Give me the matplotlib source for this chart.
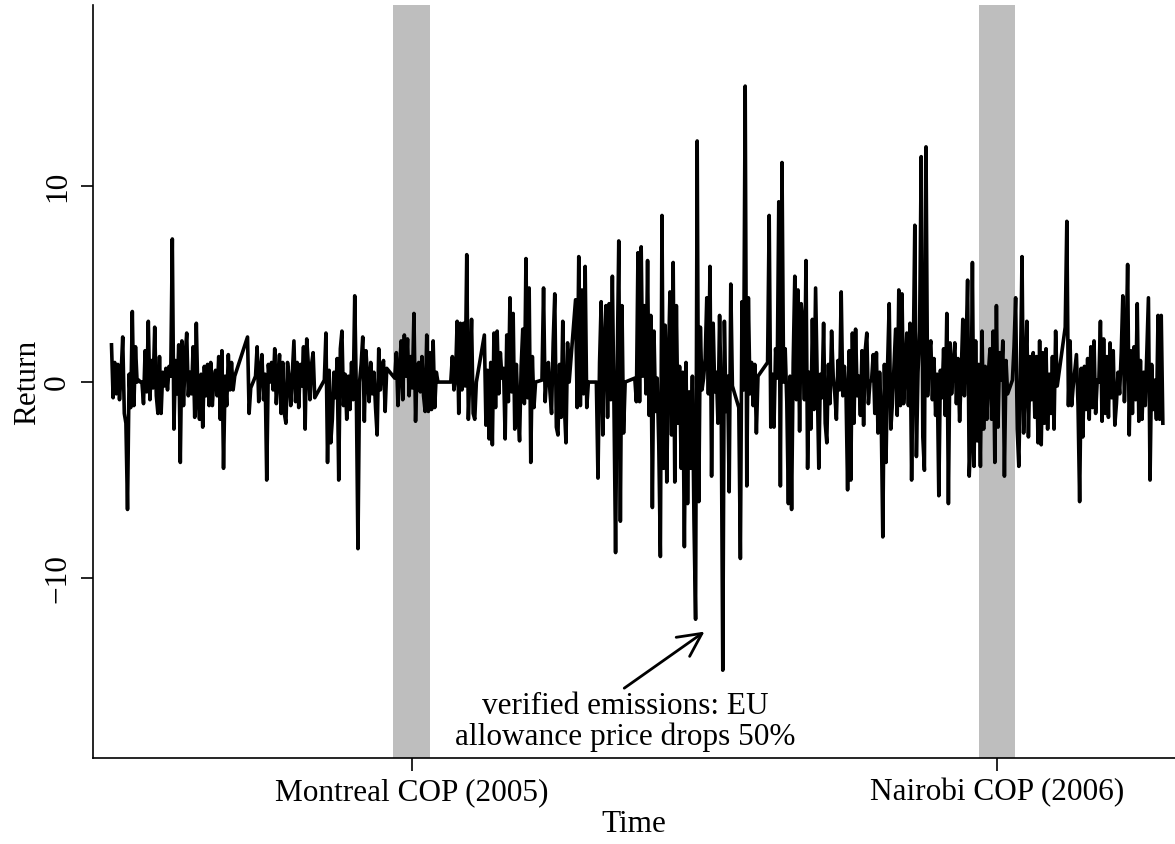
import numpy as np
import matplotlib
matplotlib.use("Agg")
import matplotlib.pyplot as plt

# ----------
# data: daily returns, one list per run of consecutive trading days
# (gaps between runs are drawn as straight connecting lines)
# ----------
seg_start = [1, 86, 134, 178, 213, 234, 270, 291, 304, 328, 393, 411, 564, 597, 604]

ret_a = [1.9, -0.8, 1.0, -0.6, 0.9, -0.9, 0.4, 2.3, -1.6, -2.1, -6.5, 0.4, -1.3, 3.6, -1.2, 1.8,
         0.0, 0.1, 0.0, 0.0,
         -1.1, 1.6, -0.5, 3.1, -0.9, 1.1, -0.3, 2.8, -0.7, -1.6, 1.3, -1.6, 0.5, -0.2, 0.7, -0.4,
         0.8, 0.3, 7.3, -2.4, 1.1, -0.6, 1.9, -4.1, 2.1, -1.2, 1.3, 2.5, -0.7, 0.5, -0.6, 1.8,
         -1.8, 3.0, -0.7, -1.9, 0.4, -2.3, 0.8, -0.7, 0.9, -1.2, 1.0, -1.2, 0.2, 0.6, -0.7, 1.3,
         -1.9, 1.6, -4.4, 0.3, -1.2, 1.4, -0.4, 1.0, -0.4, 0.3]
ret_b = [2.3, -1.6, -0.3, -0.1, 0.1, 0.3, 1.8, -1.0, 0.6, 1.4, -0.9, 0.4, -5.0, 0.9, 0.0, 1.0,
         -0.4, 1.7, -1.1, 0.3, 1.4, -1.6, 1.0, -1.6, -2.1, 1.0, 0.2, -1.2, 0.5, 2.1, -1.0, 1.0,
         -1.3, 0.9, -0.2, 1.8, -2.4, 2.2, 0.9, -0.9, 0.9, 1.5, -0.8]
ret_c = [0.1, 2.5, -4.1, 0.6, -3.1, -1.9, 0.5, -0.8, 1.2, -5.0, 1.7, 2.6, -1.2, 0.4, -1.9, 0.3,
         -1.4, 1.0, -0.9, 4.4, -0.6, -8.5, 0.0, 0.9, 2.3, -2.0, 1.6, 0.2, -1.0, 1.0, -0.6, 0.5,
         -1.3, -2.7, 1.7, -0.4, 0.8, 1.1, -1.5, 0.7]
ret_d = [0.2, 1.5, -1.2, 0.6, 2.1, -0.9, 2.4, 0.3, 2.2, -0.7, 1.3, -0.3, 3.5, -2.0, 0.8, 1.0,
         -0.5, 1.3, -0.7, -1.5, 2.4, -1.5, 1.5, -1.4, 2.1, -1.3, 0.5, 0.0]
ret_e = [0.0, 1.3, -0.4, 0.3, 3.1, -1.6, 3.0, -0.4, 3.0, -0.2, 6.5, -1.9, 0.5, 3.2, -1.6, -1.9, 0.0]
ret_f = [2.4, -2.2, 0.6, -2.9, 1.0, -3.2, 2.5, -1.3, 2.6, -0.6, 1.5, 0.2, 0.7, -2.9, 2.4, -1.0,
         4.3, -0.5, 3.5, -2.4, 0.9, -1.4, -3.0, 0.8, 2.7, -1.1, 6.3, -0.8, 4.8, -4.1, 1.3, -1.3, 0.0]
ret_g = [0.1, 4.8, -1.0, 0.4, 1.0, -0.5, -1.6, 2.0, 4.5, -2.3, -2.7, 0.9, -1.8, 3.1, -1.2, -3.1, 2.0, 0.0]
ret_h = [4.2, -1.3, 6.4, -1.2, 4.7, -0.6, 5.9, -1.3, 0.0]
ret_i = [0.0, -4.9, 1.0, 4.1, -2.7, 1.8, 3.9, -1.8, 4.0, -0.9, 5.4, -1.2, -8.7, 0.6, 7.2, -7.1, 3.9, -2.6, 0.0]
ret_j = [0.2, -1.0, 6.6, -1.0, 6.9, 0.3, 3.9, -0.6, 6.2, -1.7,
         3.4, -6.4, 2.6, -1.5, 0.2, -3.2, -8.9, 8.5, -4.4, 2.9,
         -5.1, 1.0, 4.6, -2.7, 6.1, -5.1, 3.9, -2.1, 0.8, -4.4,
         0.5, -8.4, 1.0, -6.2, -0.5, -4.4, 0.3, -7.1, -12.1, 12.3,
         -6.1, 2.8, -0.4, 0.2, 1.2, 4.3, -0.6, 5.9, -4.8, 3.0,
         -0.5, 0.5, -2.1, 3.4, -1.0, -14.7, 3.1, -1.5, 0.3, -5.6,
         5.0, -0.2]
ret_k = [-1.3, -9.0, 4.1, -0.4, 15.1, -5.3, 4.3, -0.6, 1.0, -1.2, 0.9, -2.6, 0.3]
ret_l = [1.0, 8.5, -2.3, 0.4, -2.3, 1.7, 0.2, 9.2, -5.3, 11.2,
         0.0, 1.7, -1.0, -6.2, 0.3, -6.5, 1.0, 5.4, -0.9, 4.7,
         -2.5, 4.0, 3.0, -0.9, 6.2, -4.4, 0.5, -2.4, 3.2, -1.4,
         4.8, 0.2, -4.4, 0.4, -0.8, 3.0, -2.1, -3.1, 0.9, -1.1,
         2.6, 0.3, -0.6, -1.9, 1.1, -0.4, 4.6, -0.7, 0.8, -0.5,
         -5.5, 1.6, -5.0, 2.5, -2.1, 2.7, -0.7, 0.3, -1.7, 1.6,
         -2.2, 1.6, 2.5, -1.1, 0.0, 0.1, 1.4, -1.6, 1.5, -2.6,
         0.5, -1.7, -7.9, 0.9, -4.1, 0.9, 4.0, -2.4, -1.1, 0.8,
         2.7, -1.7, 4.7, -1.2, 4.5, -1.1, 0.6, 2.5, -1.2, 3.0,
         -5.0, 1.0, 8.0, -3.8, 0.5, 2.6, 11.5, -2.8, -4.5, 12.0,
         -0.7, 1.5, 2.1, -0.9, 1.2, -1.7, 0.4, -5.8, 0.6, -0.8,
         1.7, -1.7, 3.5, -6.2, 2.0, -0.6, 0.9, 2.0, -1.1, 1.2,
         -2.0, 0.4, 3.2, -0.7, 1.6, 5.2, -4.8, -2.8, 6.1, -4.3,
         2.1, -3.0, 0.9, -4.3, 2.6, -2.4, 0.8, -1.9, 0.5, 1.7,
         -1.9, 2.6, -4.1, 3.9, -2.3, 1.5, 0.1, 2.1, -4.8, 1.1,
         -0.6]
ret_m = [0.1, 1.8, 4.3, -2.4, -4.3, 0.5, 6.4, -2.6, 0.1, 3.1, -2.8, 1.3, -0.9, 1.5, -1.8, 1.3,
         -3.1, 2.1, -3.2, 1.5, -2.1, 1.7, -2.4, 0.4, -1.6, 1.3, -2.4, 2.6, -0.2]
ret_n = [2.8, 8.2, -1.2, 2.1, -1.2, -0.2]
ret_o = [1.4, -1.2, -6.1, 0.7, -2.8, 0.8, -1.4, 1.2, -1.9, 1.8,
         -1.3, 2.1, -1.6, 0.1, 0.0, 3.1, -2.0, 2.2, -1.6, 1.3,
         -1.8, 2.0, -0.8, 1.6, -2.2, -1.1, 0.5, -0.6, 1.5, 4.4,
         -1.0, 1.6, 6.0, -2.7, 1.6, -1.6, 1.8, -0.9, 4.0, -2.0,
         1.1, -1.9, 0.5, -1.2, 1.6, 4.3, -5.0, 0.9, -1.4, 0.1,
         -1.9, 3.4, -1.9, 3.4, -2.1]

segments = [ret_a, ret_b, ret_c, ret_d, ret_e, ret_f, ret_g, ret_h,
            ret_i, ret_j, ret_k, ret_l, ret_m, ret_n, ret_o]

cop_pos = [188.75, 554.4]
cop_labels = ["Montreal COP (2005)", "Nairobi COP (2006)"]
cop_bands = [(176.9, 200.0), (543.1, 565.6)]

# -----------------------

obs = np.concatenate([s + np.arange(len(v)) for s, v in zip(seg_start, segments)])
ret = np.concatenate([np.array(v) for v in segments])

plt.rcParams['font.family'] = ['Liberation Serif', 'DejaVu Serif']
FS = 22.5

fig = plt.figure(figsize=(11.75, 8.44), dpi=100)
ax = fig.add_axes([0.0791, 0.1019, 0.9209, 0.892])

for lo, hi in cop_bands:
    ax.axvspan(lo, hi, color='#bebebe', lw=0, zorder=0)

ax.plot(obs, ret, color='black', lw=2.6, zorder=2)

ax.set_xlim(-10.6, 665.6)
ax.set_ylim(-19.18, 19.23)

ax.spines['top'].set_visible(False)
ax.spines['right'].set_visible(False)
for sp in ('left', 'bottom'):
    ax.spines[sp].set_linewidth(1.2)

ax.set_xticks(cop_pos)
ax.set_xticklabels(cop_labels)
ax.set_yticks([-10, 0, 10])
ax.set_yticklabels(['\u221210', '0', '10'], rotation=90, va='center')
ax.tick_params(axis='both', length=9, width=1.2, labelsize=FS)
ax.tick_params(axis='x', pad=5.5)
ax.tick_params(axis='y', pad=6)

ax.set_xlabel('Time', fontsize=FS, va='center')
ax.xaxis.set_label_coords(0.5, -0.0885)
ax.set_ylabel('Return', fontsize=FS, va='center')
ax.yaxis.set_label_coords(-0.0605, 0.4993)

ax.annotate('', xy=(373, -12.65), xytext=(320, -15.7),
            arrowprops=dict(arrowstyle='->,head_length=0.7,head_width=0.35',
                            lw=2.0, color='black', mutation_scale=24))
ax.text(321.9, -17.35, 'verified emissions: EU\nallowance price drops 50%',
        ha='center', va='center', fontsize=FS, linespacing=1.07)

fig.savefig('out.png', dpi=100)
